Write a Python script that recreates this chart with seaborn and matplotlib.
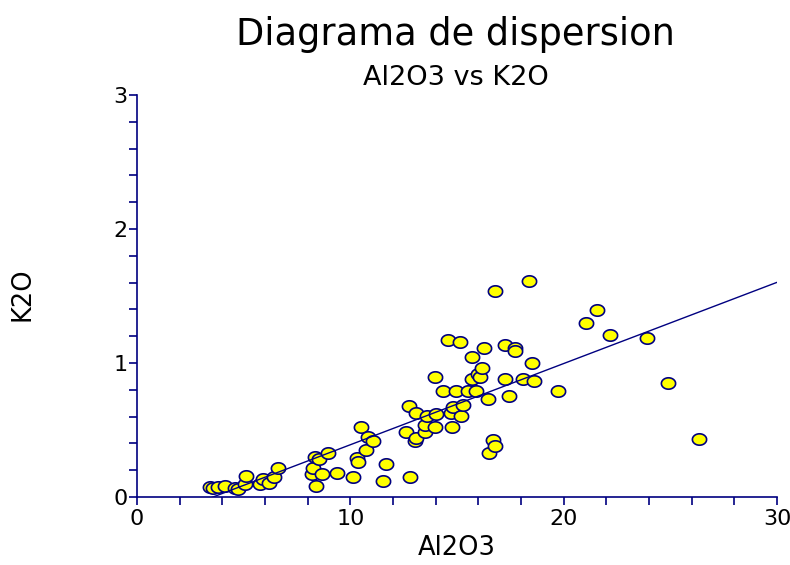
import numpy as np
import pandas as pd
import matplotlib
matplotlib.use("Agg")
import matplotlib.pyplot as plt
from matplotlib.path import Path
from matplotlib.ticker import MultipleLocator
import seaborn as sns

al2o3 = [3.42, 3.58, 3.78, 4.13, 4.6, 4.75, 5.06, 5.1, 5.77, 5.92, 6.19, 6.44, 6.62,
         8.19, 8.27, 8.34, 8.38, 8.53, 8.66, 8.94, 9.36, 10.14, 10.33, 10.38, 10.5,
         10.74, 10.82, 11.08, 11.55, 11.67, 12.61, 12.77, 12.8, 13.03, 13.08, 13.08,
         13.5, 13.5, 13.58, 13.97, 14.02, 13.97, 14.36, 14.6, 14.72, 14.75, 14.8, 14.96,
         15.14, 15.19, 15.3, 15.53, 15.69, 15.69, 15.89, 15.97, 16.08, 16.16, 16.28,
         16.44, 16.5, 16.67, 16.78, 16.78, 17.25, 17.25, 17.45, 17.72, 17.72, 18.08,
         18.38, 18.5, 18.63, 19.75, 21.03, 21.58, 22.17, 23.92, 24.88, 26.36]
k2o = [0.077, 0.07, 0.077, 0.082, 0.065, 0.06, 0.10, 0.157, 0.097, 0.132, 0.107, 0.147, 0.219,
       0.169, 0.214, 0.30, 0.084, 0.28, 0.169, 0.326, 0.18, 0.152, 0.293, 0.263, 0.525,
       0.351, 0.45, 0.42, 0.119, 0.25, 0.483, 0.681, 0.152, 0.42, 0.438, 0.629,
       0.483, 0.537, 0.604, 0.525, 0.619, 0.898, 0.791, 1.17, 0.629, 0.52, 0.674, 0.791,
       1.159, 0.604, 0.687, 0.791, 1.047, 0.878, 0.791, 0.916, 0.898, 0.965, 1.11,
       0.729, 0.326, 0.425, 0.383, 1.54, 1.134, 0.878, 0.754, 1.11, 1.09, 0.878,
       1.614, 0.998, 0.866, 0.791, 1.30, 1.393, 1.209, 1.184, 0.853, 0.435]
x_ticks = [0, 10, 20, 30]
y_ticks = [0, 1, 2, 3]

df = pd.DataFrame({"Al2O3": al2o3, "K2O": k2o})

sns.set_style("white")
plt.rcParams["font.family"] = ["DejaVu Sans"]
plt.rcParams["text.color"] = "black"
plt.rcParams["axes.labelcolor"] = "black"

navy = "#000080"
W, H = 790, 565
fig = plt.figure(figsize=(7.9, 5.65), dpi=100)
ax = fig.add_axes([137/W, 1-497/H, 640/W, 402/H])
ax.set_xlim(0, 30)
ax.set_ylim(0, 3)

t = np.linspace(0, 2*np.pi, 60)
ell = Path(np.column_stack([1.25*np.cos(t), np.sin(t)]))

sns.regplot(data=df, x="Al2O3", y="K2O", ax=ax, ci=None, truncate=False,
            marker=ell,
            scatter_kws=dict(s=105, facecolor="#ffff00", edgecolor=navy, linewidths=1.2,
                             alpha=1, zorder=2, clip_on=False),
            line_kws=dict(color=navy, lw=1.0, zorder=3))
ax.set_xlim(0, 30)
ax.set_ylim(0, 3)

for s in ["top", "right"]:
    ax.spines[s].set_visible(False)
for s in ["left", "bottom"]:
    ax.spines[s].set_color(navy)
    ax.spines[s].set_linewidth(1.2)

ax.set_xticks(x_ticks)
ax.set_yticks(y_ticks)
ax.xaxis.set_minor_locator(MultipleLocator(2))
ax.yaxis.set_minor_locator(MultipleLocator(0.2))
ax.tick_params(which="both", direction="out", length=5.5, width=1.2, color=navy,
               labelsize=16, labelcolor="black", bottom=True, left=True)
ax.tick_params(axis="x", which="major", pad=3)
ax.tick_params(axis="y", which="major", pad=1.5)

ax.set_xlabel("Al2O3", fontsize=18.5, va="baseline")
ax.xaxis.set_label_coords(0.5, (497-555)/402)
ax.set_ylabel("K2O", fontsize=18.5, va="center")
ax.yaxis.set_label_coords((22-137)/640, 0.505)

fig.text(455/W, 1-45/H, "Diagrama de dispersion", ha="center", va="baseline", fontsize=26.5)
fig.text(456/W, 1-85/H, "Al2O3 vs K2O", ha="center", va="baseline", fontsize=19.5)

fig.savefig("out.png", dpi=100)
